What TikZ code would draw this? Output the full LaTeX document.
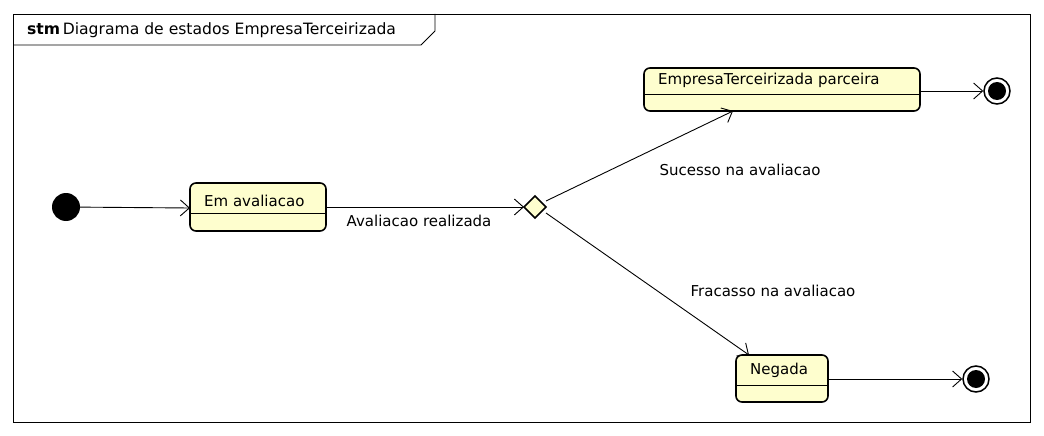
\documentclass[tikz,border=0pt]{standalone}
\usepackage{fontspec}
\setmainfont{DejaVu Sans}
\usetikzlibrary{arrows.meta}
\definecolor{statefill}{HTML}{FEFECE}
\tikzset{
  x=1pt,y=-1pt,
  statebox/.style={draw=black,line width=1.6pt,fill=statefill,rounded corners=6pt},
  sep/.style={line width=1pt},
  conn/.style={line width=0.9pt,-{Straight Barb[length=9pt,width=16pt,line width=0.9pt]}},
  lbl/.style={font=\fontsize{15}{17}\selectfont,inner sep=0pt},
  initst/.style={circle,fill=black,minimum size=28pt,inner sep=0pt},
  finalst/.style={circle,draw=black,line width=1.5pt,fill=white,minimum size=26pt,inner sep=0pt},
}
\begin{document}
\begin{tikzpicture}
\useasboundingbox (0,0) rectangle (1044,436);
% frame
\draw[line width=0.9pt] (13,14) rectangle (1030,422);
\draw[line width=0.9pt] (13,45) -- (421,45) -- (435,31) -- (435,14);
\node[lbl,anchor=west,font=\fontsize{15.6}{17}\selectfont] (title) at (27,30) {\textbf{stm}\,Diagrama de estados EmpresaTerceirizada};

% initial
\node[initst] (init) at (66,207) {};

% Em avaliacao
\draw[statebox] (190,183) rectangle (326,231);
\draw[sep] (190,213) -- (326,213);
\node[lbl,anchor=west] (em) at (204,201) {Em avaliacao};
\coordinate (emW) at (190,208);
\coordinate (emE) at (326,207);

% diamond
\draw[line width=1.6pt,fill=statefill] (535,196) -- (546,207) -- (535,218) -- (524,207) -- cycle;
\coordinate (dW) at (524,207);
\coordinate (dNE) at (546,201);
\coordinate (dSE) at (546,213);

% parceira
\draw[statebox] (644,68) rectangle (920,111);
\draw[sep] (644,94) -- (920,94);
\node[lbl,anchor=west] (parc) at (658,80) {EmpresaTerceirizada parceira};
\coordinate (parcS) at (733,111);
\coordinate (parcE) at (920,91);

% Negada
\draw[statebox] (736,355) rectangle (828,402);
\draw[sep] (736,385) -- (828,385);
\node[lbl,anchor=west] (neg) at (750,370) {Negada};
\coordinate (negN) at (749,355);
\coordinate (negE) at (828,379);

% finals
\node[finalst] (f1) at (997,91) {};
\fill (f1) circle (9pt);
\node[finalst] (f2) at (976,379) {};
\fill (f2) circle (9pt);

% connectors
\draw[conn] (init) -- (emW);
\draw[conn] (emE) -- (dW);
\draw[conn] (dNE) -- (parcS);
\draw[conn] (dSE) -- (negN);
\draw[conn] (parcE) -- (f1.west);
\draw[conn] (negE) -- (f2.west);

% labels
\node[lbl] (l1) at (419,221) {Avaliacao realizada};
\node[lbl] (l2) at (740,170) {Sucesso na avaliacao};
\node[lbl] (l3) at (773,291) {Fracasso na avaliacao};
\end{tikzpicture}
\end{document}
